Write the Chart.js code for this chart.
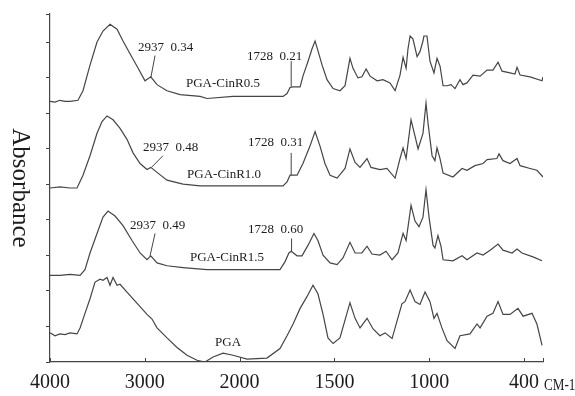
<!DOCTYPE html>
<html>
<head>
<meta charset="utf-8">
<script src="https://cdn.jsdelivr.net/npm/chart.js@4"></script>
<style>
  html, body { margin: 0; padding: 0; background: #fff; }
  #wrap { width: 575px; height: 396px; }
</style>
</head>
<body>
<div id="wrap"><canvas id="irChart" width="575" height="396"></canvas></div>
<script>
// FTIR spectra, wavenumber (cm-1) vs stacked absorbance
const r05Wn  = [4000,3947,3895,3842,3789,3705,3652,3578,3504,3441,3367,3293,3230,3156,3082,2998,2937,2871,2766,2628,2417,2344,2069,1771,1750,1734,1718,1681,1666,1639,1618,1602,1587,1565,1539,1507,1471,1444,1418,1402,1376,1355,1333,1312,1275,1244,1207,1180,1154,1138,1122,1112,1101,1086,1064,1049,1033,1028,1012,996,975,959,943,927,906,885,864,838,822,801,769,732,695,664,637,616,574,548,537,521,468,405,400];
const r05Abs = [7.34,7.32,7.37,7.34,7.34,7.37,7.64,8.36,9.01,9.32,9.51,9.37,9.04,8.68,8.33,7.92,8.03,7.81,7.64,7.53,7.48,7.42,7.48,7.48,7.56,7.73,7.75,7.75,8.05,8.47,8.82,9.04,8.77,8.36,7.95,7.70,7.64,7.78,8.55,8.27,8.00,8.03,8.25,8.05,7.92,7.95,7.86,7.64,8.08,8.58,8.27,8.82,9.18,9.10,8.60,8.74,9.04,9.18,9.18,8.47,8.14,8.55,8.33,7.78,7.78,7.81,7.70,7.95,7.81,7.86,8.08,8.05,8.22,8.22,8.44,8.19,8.14,8.11,8.30,8.08,8.03,7.92,8.03];

const r10Wn  = [4000,3895,3789,3715,3652,3578,3504,3451,3399,3335,3261,3188,3124,3050,2977,2937,2871,2766,2597,2417,2069,1771,1750,1734,1697,1666,1629,1602,1576,1550,1523,1486,1444,1418,1391,1365,1328,1307,1260,1223,1180,1154,1138,1122,1096,1075,1059,1033,1017,1006,985,970,959,943,927,875,827,801,759,716,695,643,632,611,574,537,521,468,432,400];
const r10Abs = [4.90,4.93,4.90,4.90,5.26,5.81,6.44,6.77,6.93,6.82,6.58,6.27,5.89,5.59,5.42,5.48,5.34,5.12,5.01,4.96,4.96,4.96,5.07,5.26,5.26,5.59,6.08,6.49,6.08,5.59,5.26,5.18,5.45,6.00,5.62,5.48,5.73,5.48,5.42,5.45,5.18,5.73,6.03,5.73,6.82,6.36,6.00,6.44,7.29,6.71,5.81,5.67,6.03,5.73,5.32,5.21,5.45,5.40,5.53,5.59,5.70,5.73,5.86,5.67,5.59,5.73,5.53,5.45,5.40,5.21];

const r15Wn  = [4000,3895,3789,3683,3631,3578,3504,3441,3388,3314,3230,3135,3050,2977,2937,2871,2766,2597,2344,2069,1787,1761,1740,1728,1697,1671,1639,1608,1587,1560,1523,1486,1455,1418,1391,1355,1328,1302,1260,1228,1196,1165,1138,1122,1096,1075,1054,1033,1017,1001,980,970,954,938,927,875,827,801,748,716,679,637,611,563,537,511,453,405];
const r15Abs = [2.44,2.44,2.47,2.44,2.60,3.07,3.62,4.08,4.25,4.11,3.84,3.42,3.07,2.88,2.99,2.79,2.71,2.66,2.60,2.60,2.60,2.82,3.07,3.12,2.99,2.99,3.29,3.62,3.42,3.01,2.79,2.74,2.93,3.37,3.07,3.07,3.26,3.04,3.01,3.12,2.88,3.07,3.62,3.42,4.41,3.97,3.81,4.08,4.85,4.08,3.29,3.21,3.56,3.26,2.88,2.85,2.99,2.88,3.07,3.01,3.15,3.32,3.15,3.07,3.18,3.07,2.96,2.85];

const pgaWn  = [4000,3947,3895,3842,3789,3715,3683,3631,3578,3525,3472,3441,3399,3367,3335,3293,3261,3188,3124,3050,2977,2924,2871,2766,2660,2555,2449,2365,2280,2175,2069,1961,1856,1787,1750,1718,1681,1645,1613,1587,1560,1534,1507,1471,1434,1418,1391,1365,1328,1296,1260,1233,1196,1170,1144,1128,1101,1075,1049,1022,996,975,959,933,906,864,838,785,748,732,695,664,637,611,574,532,505,458,432,405];
const pgaAbs = [0.82,0.74,0.79,0.77,0.82,0.79,0.96,1.37,1.78,2.25,2.33,2.30,2.38,2.16,2.38,2.16,2.19,1.97,1.78,1.56,1.34,1.21,0.96,0.68,0.41,0.19,0.05,0.00,0.14,0.25,0.19,0.08,0.11,0.38,0.74,1.07,1.51,1.84,2.16,1.92,1.34,0.68,0.52,0.68,1.37,1.67,1.23,0.96,1.23,0.93,0.74,0.82,0.66,1.15,1.64,1.70,2.03,1.70,1.62,1.97,1.70,1.23,1.37,0.96,0.60,0.38,0.74,0.79,1.07,0.96,1.29,1.37,1.70,1.34,1.34,1.51,1.29,1.37,1.07,0.47];

// axis ticks (the last labelled tick reads "400" in the original figure)
const tickWn   = [4000, 3000, 2000, 1500, 1000, 500, 400];
const tickText = ["4000", "3000", "2000", "1500", "1000", "400", ""];
const yTicks   = [0, 1, 2, 3, 4, 5, 6, 7, 8, 9, 9.8];

// peak annotations: text, wavenumber, absorbance, alignment
const peakNotes = [
  ["2937  0.34", 3072, 8.85, "left"],
  ["1728  0.21", 1961, 8.60, "left"],
  ["PGA-CinR0.5", 2175, 7.84, "center"],
  ["2937  0.48", 3019, 6.03, "left"],
  ["1728  0.31", 1956, 6.19, "left"],
  ["PGA-CinR1.0", 2164, 5.29, "center"],
  ["2937  0.49", 3156, 3.84, "left"],
  ["1728  0.60", 1956, 3.73, "left"],
  ["PGA-CinR1.5", 2133, 2.93, "center"],
  ["PGA", 2122, 0.55, "center"]
];
// leader lines from the curve to the label: [wn1, y1, wn2, y2]
const leaders = [
  [2937, 8.00, 2892, 8.63], [1728, 7.75, 1728, 8.47],
  [2930, 5.48, 2808, 5.81], [1728, 5.26, 1728, 5.89],
  [2945, 2.99, 2892, 3.62], [1726, 3.12, 1726, 3.48]
];

// the wavenumber axis changes scale at 2000 cm-1 (4000-2000 is compressed 2x)
function toAxis(wn) {
  return wn >= 2000 ? (4000 - wn) / 2 : 1000 + (2000 - wn);
}

const lineColor = '#454545';
const textColor = '#1c1c1c';
const serif = "'Liberation Serif', 'DejaVu Serif', serif";

function traceSet(wn, abs) {
  return {
    data: wn.map((w, i) => ({ x: toAxis(w), y: abs[i] })),
    borderColor: lineColor,
    borderWidth: 1.2,
    pointRadius: 0,
    tension: 0,
    fill: false
  };
}

let datasets = [
  traceSet(r05Wn, r05Abs),
  traceSet(r10Wn, r10Abs),
  traceSet(r15Wn, r15Abs),
  traceSet(pgaWn, pgaAbs)
];
leaders.forEach(function (l) {
  datasets.push({
    data: [{ x: toAxis(l[0]), y: l[1] }, { x: toAxis(l[2]), y: l[3] }],
    borderColor: lineColor,
    borderWidth: 1,
    pointRadius: 0
  });
});

const extras = {
  id: 'extras',
  afterDraw: function (chart) {
    const ctx = chart.ctx, xs = chart.scales.x, ys = chart.scales.y;
    const area = chart.chartArea;
    ctx.save();
    // inward tick marks on the wavenumber axis
    ctx.strokeStyle = lineColor;
    ctx.lineWidth = 1;
    xs.ticks.forEach(function (t) {
      const px = Math.round(xs.getPixelForValue(t.value)) + 0.5;
      ctx.beginPath();
      ctx.moveTo(px, area.bottom);
      ctx.lineTo(px, area.bottom - 4);
      ctx.stroke();
    });
    // peak labels
    ctx.fillStyle = textColor;
    ctx.font = "13px " + serif;
    ctx.textBaseline = 'middle';
    peakNotes.forEach(function (n) {
      ctx.textAlign = n[3];
      ctx.fillText(n[0], xs.getPixelForValue(toAxis(n[1])), ys.getPixelForValue(n[2]));
    });
    // unit after the axis end (narrow, like the original)
    ctx.save();
    ctx.translate(area.right + 1, 386);
    ctx.scale(0.82, 1);
    ctx.font = "16px " + serif;
    ctx.textAlign = 'left';
    ctx.fillText("CM-1", 0, 0);
    ctx.restore();
    // y title, rotated clockwise
    ctx.translate(20, (area.top + area.bottom) / 2);
    ctx.rotate(Math.PI / 2);
    ctx.font = "25px " + serif;
    ctx.textAlign = 'center';
    ctx.fillText("Absorbance", 0, 0);
    ctx.restore();
  }
};

new Chart(document.getElementById('irChart'), {
  type: 'line',
  data: { datasets: datasets },
  options: {
    responsive: false,
    animation: false,
    events: [],
    layout: { padding: { left: 46, right: 32, top: 14, bottom: 0 } },
    plugins: { legend: { display: false }, tooltip: { enabled: false } },
    scales: {
      x: {
        type: 'linear',
        min: 0,
        max: toAxis(400),
        afterBuildTicks: function (scale) {
          scale.ticks = tickWn.map(w => ({ value: toAxis(w) }));
        },
        ticks: {
          autoSkip: false,
          maxRotation: 0,
          padding: 3,
          color: textColor,
          font: { family: serif, size: 20, lineHeight: 1 },
          callback: function (value, index) { return tickText[index]; }
        },
        grid: { display: false },
        border: { display: true, color: lineColor, width: 1.2 }
      },
      y: {
        type: 'linear',
        min: 0,
        max: 9.8,
        afterBuildTicks: function (scale) {
          scale.ticks = yTicks.map(v => ({ value: v }));
        },
        ticks: { display: false },
        grid: { display: true, drawOnChartArea: false, drawTicks: true, tickLength: 4, color: lineColor },
        border: { display: true, color: lineColor, width: 1.2 }
      }
    }
  },
  plugins: [extras]
});
</script>
</body>
</html>
